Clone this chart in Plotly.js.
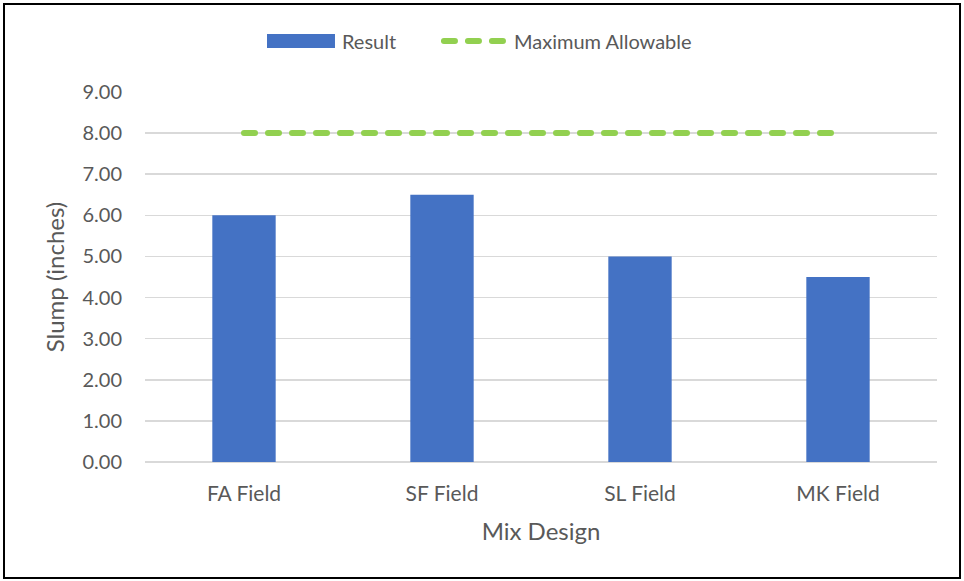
<!DOCTYPE html>
<html>
<head>
<meta charset="utf-8">
<script src="https://cdn.plot.ly/plotly-3.0.1.min.js"></script>
<style>
html,body{margin:0;padding:0;background:#fff;}
#wrap{position:relative;width:964px;height:581px;}
#chart{position:absolute;left:0;top:0;width:964px;height:581px;}
#frame{position:absolute;left:3px;top:3px;width:954px;height:572px;border:2px solid #000;pointer-events:none;}
#chart path.js-line{stroke-linecap:round;}
#chart .legend .traces:first-of-type path{transform-box:fill-box;transform-origin:center;transform:translateX(34px) scale(5.67,1.17);}
</style>
</head>
<body>
<div id="wrap"><div id="chart"></div><div id="frame"></div></div>
<script>
const categories = ["FA Field", "SF Field", "SL Field", "MK Field"];
const resultValues = [6.00, 6.50, 5.00, 4.50];
const maxAllowable = [8.00, 8.00, 8.00, 8.00];
const yTicks = [0, 1, 2, 3, 4, 5, 6, 7, 8, 9];

const fontFam = "Lato, 'Open Sans', sans-serif";
const txt = "#595959";

const traces = [
  {
    type: "bar", name: "Result", x: categories, y: resultValues,
    marker: {color: "#4472C4"}, legendwidth: 92
  },
  {
    type: "scatter", mode: "lines", name: "Maximum Allowable", x: categories, y: maxAllowable,
    line: {color: "#92D050", width: 6, dash: "11px,13px"}
  }
];

const layout = {
  width: 964, height: 581,
  margin: {l: 145, r: 27, t: 92, b: 119},
  paper_bgcolor: "#fff", plot_bgcolor: "#fff",
  font: {family: fontFam, color: txt, size: 20},
  bargap: 0.68,
  showlegend: true,
  legend: {
    orientation: "h", x: 0.154, xanchor: "left", y: 1.138, yanchor: "middle",
    font: {size: 20, color: txt, family: fontFam}, traceorder: "normal",
    itemwidth: 65
  },
  xaxis: {
    type: "category", showgrid: false, showline: false, zeroline: false,
    ticks: "", tickfont: {size: 21, color: txt}, ticklabelstandoff: 17,
    title: {text: "Mix Design", font: {size: 24, color: txt}, standoff: 19}
  },
  yaxis: {
    range: [0, 9], tickvals: yTicks, tickformat: ".2f",
    showgrid: true, gridcolor: "#d9d9d9", gridwidth: 1.5,
    zeroline: true, zerolinecolor: "#d9d9d9", zerolinewidth: 1.5,
    showline: false, ticks: "", ticklabelstandoff: 22,
    tickfont: {size: 20, color: txt},
    title: {text: "Slump (inches)", font: {size: 24, color: txt}, standoff: 11}
  }
};

Plotly.newPlot("chart", traces, layout, {displayModeBar: false, staticPlot: true});
</script>
</body>
</html>
